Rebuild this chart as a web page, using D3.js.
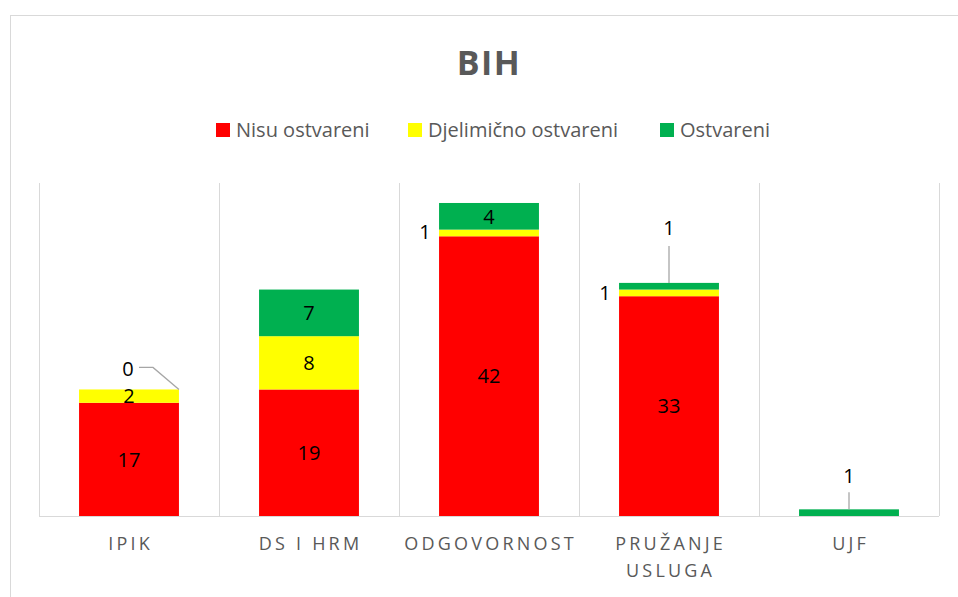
<!DOCTYPE html>
<html>
<head>
<meta charset="utf-8">
<style>
  body { margin: 0; background: #fff; }
  svg { display: block; font-family: "Open Sans", sans-serif; }
</style>
<script src="https://d3js.org/d3.v7.min.js"></script>
</head>
<body>
<svg width="958" height="597"></svg>
<script>
// data
var categories = ["IPIK", "DS I HRM", "ODGOVORNOST", "PRUŽANJE USLUGA", "UJF"];
var nisuOstvareni = [17, 19, 42, 33, 0];
var djelimicno = [2, 8, 1, 1, 0];
var ostvareni = [0, 7, 4, 1, 1];
var seriesNames = ["Nisu ostvareni", "Djelimično ostvareni", "Ostvareni"];
var colors = ["#ff0000", "#ffff00", "#00b050"];

var svg = d3.select("svg");

// chart border
svg.append("rect")
  .attr("x", 10.5).attr("y", 15.5)
  .attr("width", 980).attr("height", 620)
  .attr("fill", "#fff").attr("stroke", "#d9d9d9");

var margin = {left: 39, right: 19, top: 183, bottom: 81};
var width = 958 - margin.left - margin.right,
    height = 597 - margin.top - margin.bottom;

var g = svg.append("g").attr("transform", "translate(" + margin.left + "," + margin.top + ")");

var x = d3.scaleBand().domain(categories).range([0, width]).paddingInner(0).paddingOuter(0);
var y = d3.scaleLinear().domain([0, 50]).range([height, 0]);

var barW = x.bandwidth() * 0.555;

// category separators
var bounds = categories.map(function (c) { return x(c); }).concat([width]);
g.selectAll(".sep").data(bounds).enter().append("line")
  .attr("x1", function (d) { return Math.round(d) + 0.5; })
  .attr("x2", function (d) { return Math.round(d) + 0.5; })
  .attr("y1", 0).attr("y2", height)
  .attr("stroke", "#d9d9d9");

var rows = categories.map(function (c, i) {
  return {cat: c, "Nisu ostvareni": nisuOstvareni[i], "Djelimično ostvareni": djelimicno[i], "Ostvareni": ostvareni[i]};
});
var stack = d3.stack().keys(seriesNames)(rows);

g.selectAll(".series").data(stack).enter().append("g")
  .attr("fill", function (d, i) { return colors[i]; })
  .selectAll("rect").data(function (d) { return d; }).enter().append("rect")
  .attr("x", function (d) { return x(d.data.cat) + (x.bandwidth() - barW) / 2; })
  .attr("y", function (d) { return y(d[1]); })
  .attr("width", barW)
  .attr("height", function (d) { return y(d[0]) - y(d[1]); });

// baseline
g.append("line").attr("x1", 0).attr("x2", width)
  .attr("y1", height + 0.5).attr("y2", height + 0.5)
  .attr("stroke", "#d9d9d9");

// data labels
var labelFont = 20;
function cx(i) { return x(categories[i]) + x.bandwidth() / 2; }
function label(px, py, txt) {
  g.append("text").attr("x", px).attr("y", py).attr("text-anchor", "middle")
    .attr("dy", "0.36em").attr("font-size", labelFont).attr("fill", "#000").text(txt);
}
function leader(pts) {
  g.append("path").attr("d", d3.line()(pts)).attr("fill", "none")
    .attr("stroke", "#a6a6a6").attr("stroke-width", 1.3);
}
stack.forEach(function (s, si) {
  s.forEach(function (d, i) {
    var v = d[1] - d[0];
    var mid = y((d[0] + d[1]) / 2);
    if (v >= 2) {
      label(cx(i), mid, v);
    }
  });
});
// small segments with outside labels
// IPIK ostvareni = 0
var top0 = y(nisuOstvareni[0] + djelimicno[0]);
label(cx(0) - 1, top0 - 21, ostvareni[0]);
leader([[cx(0) + 10, top0 - 22], [cx(0) + 24, top0 - 22], [cx(0) + barW / 2, top0]]);
// ODGOVORNOST djelimicno = 1
label(cx(2) - barW / 2 - 14, y(nisuOstvareni[2] + djelimicno[2] / 2) - 1, djelimicno[2]);
// PRUZANJE djelimicno = 1
label(cx(3) - barW / 2 - 14, y(nisuOstvareni[3] + djelimicno[3] / 2), djelimicno[3]);
// PRUZANJE ostvareni = 1
var t3 = y(nisuOstvareni[3] + djelimicno[3] + ostvareni[3]);
label(cx(3), t3 - 55, ostvareni[3]);
leader([[cx(3), t3 - 37], [cx(3), t3]]);
// UJF ostvareni = 1
var t4 = y(ostvareni[4]);
label(cx(4), t4 - 34, ostvareni[4]);
leader([[cx(4), t4 - 17], [cx(4), t4]]);

// category labels
var ls = 3.2;
g.selectAll(".cat").data(categories).enter().append("text")
  .attr("text-anchor", "middle")
  .attr("font-size", 18).attr("fill", "#595959").attr("letter-spacing", ls + "px")
  .each(function (c) {
    var t = d3.select(this);
    var lines = c === "PRUŽANJE USLUGA" ? ["PRUŽANJE", "USLUGA"] : [c];
    lines.forEach(function (l, k) {
      t.append("tspan").attr("x", x(c) + x.bandwidth() / 2 + ls / 2).attr("y", height + 34 + k * 27).text(l);
    });
  });

// title
svg.append("text").attr("x", 489).attr("y", 75).attr("text-anchor", "middle")
  .attr("font-size", 34).attr("font-weight", "bold").attr("fill", "#595959")
  .attr("letter-spacing", "1.5px").text("BIH");

// legend
var legendX = [216, 408, 660];
seriesNames.forEach(function (n, i) {
  var item = svg.append("g").attr("transform", "translate(" + legendX[i] + ",130)");
  item.append("rect").attr("x", 0).attr("y", -7).attr("width", 14).attr("height", 14).attr("fill", colors[i]);
  item.append("text").attr("x", 20).attr("y", 0).attr("dy", "0.36em")
    .attr("font-size", 20).attr("fill", "#595959").text(n);
});
</script>
</body>
</html>
